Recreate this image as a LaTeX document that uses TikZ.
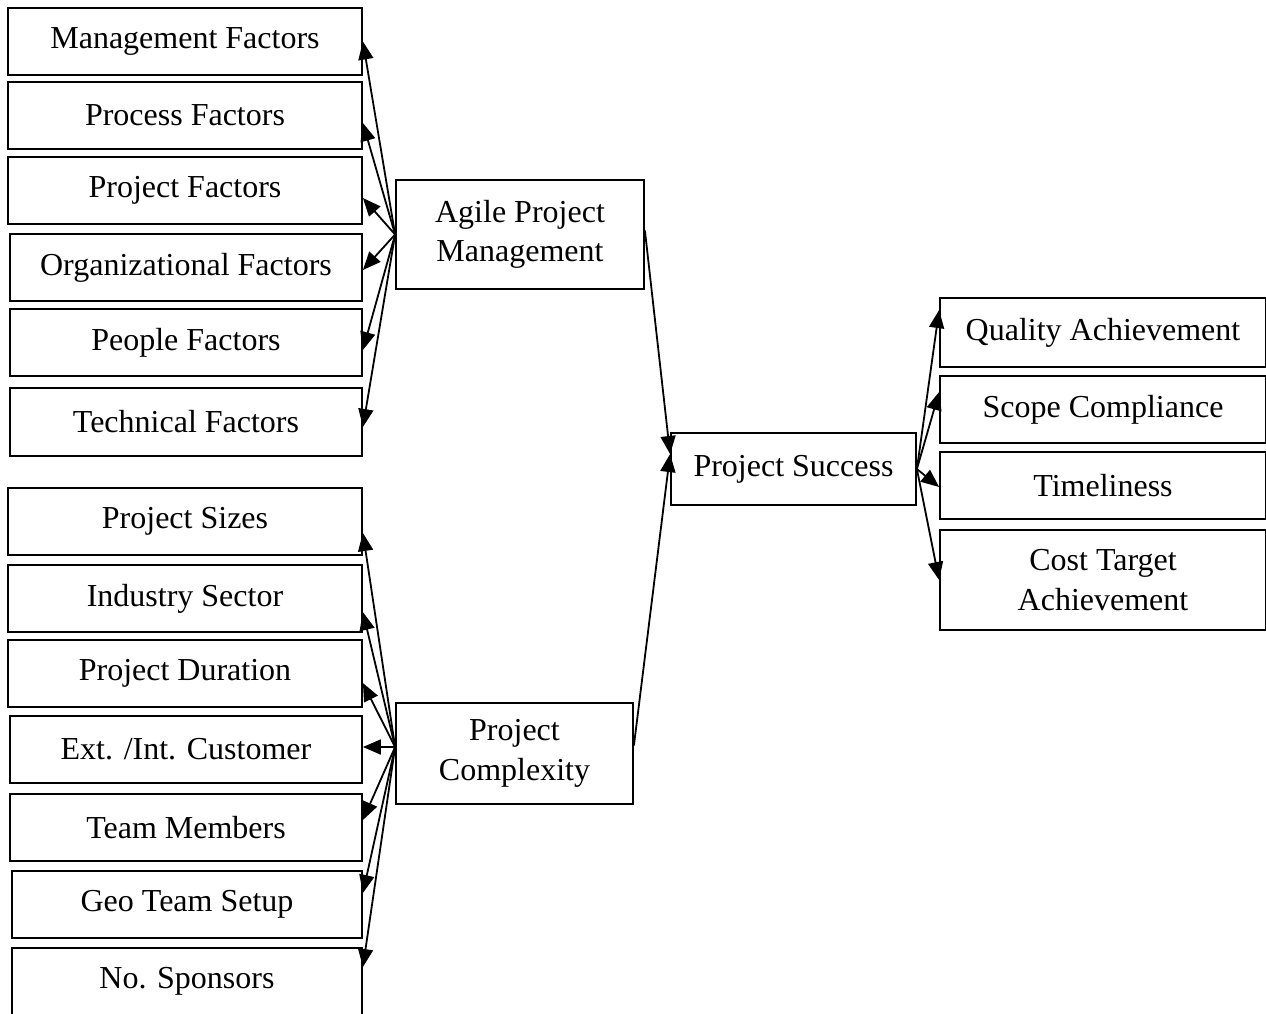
\documentclass[tikz,border=0pt]{standalone}
\usepackage{fontspec}
\setmainfont{Liberation Serif}
\usetikzlibrary{arrows.meta}
\begin{document}
\begin{tikzpicture}[x=1pt,y=-1pt,
  box/.style={draw, line width=1.8pt, inner sep=0pt, align=center,
    font=\fontsize{32}{39.5}\selectfont},
  link/.style={line width=1.8pt, -{Triangle[length=18pt,width=15pt]}}]
\useasboundingbox (0,0) rectangle (1266,1013);

% agile project management factors
\node[box, minimum width=354pt, minimum height=67pt] (mf) at (185,41.5)  {Management Factors};
\node[box, minimum width=354pt, minimum height=67pt] (pf) at (185,115.5) {Process Factors};
\node[box, minimum width=354pt, minimum height=67pt] (pj) at (185,190.5) {Project Factors};
\node[box, minimum width=352pt, minimum height=67pt] (of) at (186,267.5) {Organizational Factors};
\node[box, minimum width=352pt, minimum height=67pt] (pe) at (186,342.5) {People Factors};
\node[box, minimum width=352pt, minimum height=68pt] (tf) at (186,422)   {Technical Factors};

% project complexity factors
\node[box, minimum width=354pt, minimum height=67pt] (sz) at (185,521.5) {Project Sizes};
\node[box, minimum width=354pt, minimum height=67pt] (is) at (185,598.5) {Industry Sector};
\node[box, minimum width=354pt, minimum height=67pt] (pd) at (185,673.5) {Project Duration};
\node[box, minimum width=352pt, minimum height=67pt] (ec) at (186,749.5) {Ext. /Int. Customer};
\node[box, minimum width=352pt, minimum height=67pt] (tm) at (186,827.5) {Team Members};
\node[box, minimum width=350pt, minimum height=67pt] (gt) at (187,904.5) {Geo Team Setup};
\node[box, minimum width=350pt, minimum height=67pt] (ns) at (187,981.5) {No. Sponsors};

% central constructs
\node[box, minimum width=248pt, minimum height=109pt] (apm) at (520,234.5) {Agile Project\\Management};
\node[box, minimum width=237pt, minimum height=101pt] (pc)  at (514.5,753.5) {Project\\Complexity};
\node[box, minimum width=245pt, minimum height=72pt]  (ps)  at (793.5,469) {Project Success};

% success dimensions
\node[box, minimum width=326pt, minimum height=69pt]  (qa) at (1103,332.5) {Quality Achievement};
\node[box, minimum width=326pt, minimum height=67pt]  (sc) at (1103,409.5) {Scope Compliance};
\node[box, minimum width=326pt, minimum height=67pt]  (ti) at (1103,485.5) {Timeliness};
\node[box, minimum width=326pt, minimum height=100pt] (ct) at (1103,580)   {Cost Target\\Achievement};

% agile project management links
\draw[link] (apm.west) -- (mf.east);
\draw[link] (apm.west) -- ([yshift=-7.5pt]pf.east);
\draw[link] (apm.west) -- ([yshift=-7.5pt]pj.east);
\draw[link] (apm.west) -- ([yshift=-2.5pt]of.east);
\draw[link] (apm.west) -- ([yshift=-7.5pt]pe.east);
\draw[link] (apm.west) -- ([yshift=-5pt]tf.east);

% project complexity links
\coordinate (pcw) at ([yshift=6.5pt]pc.west);
\draw[link] (pcw) -- ([yshift=-11.5pt]sz.east);
\draw[link] (pcw) -- ([yshift=-13.5pt]is.east);
\draw[link] (pcw) -- ([yshift=-9.5pt]pd.east);
\draw[link] (pcw) -- ([yshift=2.5pt]ec.east);
\draw[link] (pcw) -- ([yshift=7.5pt]tm.east);
\draw[link] (pcw) -- ([yshift=11.5pt]gt.east);
\draw[link] (pcw) -- ([yshift=14.5pt]ns.east);

% links into project success
\draw[link] ([yshift=4pt]apm.east) -- ([yshift=15pt]ps.west);
\draw[link] ([yshift=8pt]pc.east) -- ([yshift=15pt]ps.west);

% links out of project success
\draw[link] (ps.east) -- ([yshift=22.5pt]qa.west);
\draw[link] (ps.east) -- ([yshift=17.5pt]sc.west);
\draw[link] (ps.east) -- ([yshift=-1.5pt]ti.west);
\draw[link] (ps.east) -- (ct.west);
\end{tikzpicture}
\end{document}
